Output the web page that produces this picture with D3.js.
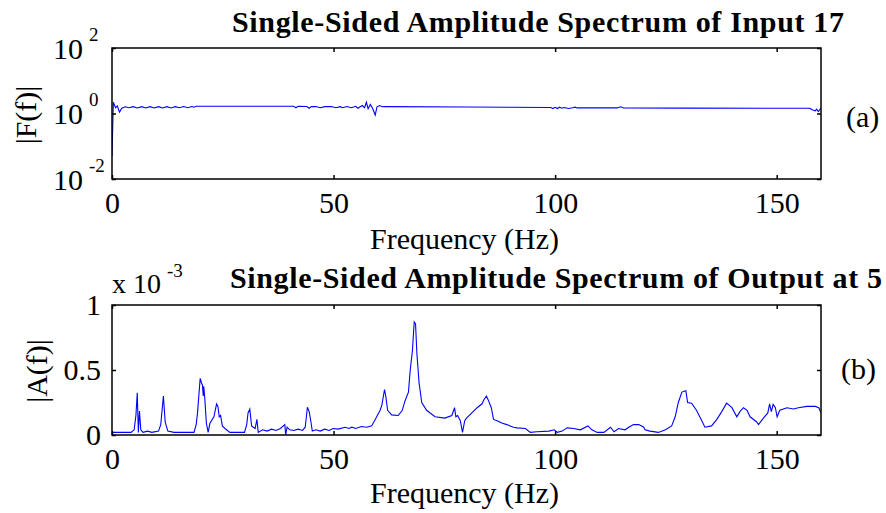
<!DOCTYPE html>
<html><head><meta charset="utf-8">
<script src="https://cdn.jsdelivr.net/npm/d3@7"></script>
<style>
html,body{margin:0;padding:0;background:#fff;}
svg{display:block;}
text{font-family:"Liberation Serif","Times New Roman",serif;fill:#000;}
</style></head>
<body>
<svg id="c" width="886" height="513"></svg>
<script>
// ---- data ----
const xTicks = [0, 50, 100, 150];
const topYTicks = [0.01, 1, 100];
const topYExp = ["-2", "0", "2"];
const botYTicks = [0, 0.5, 1];
const botYLabels = ["0", "0.5", "1"];
const titleTop = "Single-Sided Amplitude Spectrum of Input 17";
const titleBot = "Single-Sided Amplitude Spectrum of Output at 5";

const inFreq = [0,0.3,0.8,1.2,1.7,2.2,3,3.8,4.8,5.7,6.7,7.6,8.6,9.5,10.5,11.4,12.4,13.3,14.3,15.2,16.2,17.1,18,18.5,19,30,41,41.5,42,44,44.5,45,46,47,48,49.5,50.5,51.5,52,53,54,55,55.5,56,56.5,57,57.4,57.8,58.3,58.8,59.4,59.8,60.4,61,61.6,80,99,99.5,100,100.5,101,101.5,102,103,104,104.5,105,114,114.8,115.4,130,157.5,158,158.7,159,159.4,160];
const inAmp  = [0.05,2.2,1.5,1.7,1.1,1.45,1.6,1.5,1.62,1.48,1.62,1.48,1.62,1.48,1.62,1.48,1.62,1.48,1.62,1.5,1.63,1.5,1.64,1.55,1.66,1.66,1.66,1.5,1.66,1.64,1.45,1.62,1.64,1.5,1.62,1.64,1.5,1.62,1.5,1.64,1.5,1.66,1.45,1.6,1.75,1.5,2.2,1.4,1.9,1.45,0.9,1.6,1.75,1.6,1.62,1.58,1.52,1.42,1.55,1.42,1.56,1.45,1.52,1.42,1.5,1.56,1.48,1.48,1.6,1.47,1.46,1.45,1.3,1.2,1.35,1.15,1.45];

const outFreq = [0,4.3,5.0,5.4,5.7,5.95,6.2,6.5,7,8,9,10.5,11.0,11.6,12.0,12.6,14,18.5,19.0,19.3,19.9,20.2,20.4,20.6,20.7,20.9,21.3,21.7,22.1,23.0,23.6,23.9,24.2,24.5,24.9,25.5,26.6,29.9,30.4,30.7,31.1,31.5,32.3,32.7,33.0,34,35,36,37,38,39.0,39.2,39.5,40.1,41,42,43,43.6,44.1,44.5,44.9,45.2,46,47,48,49,49.9,51,52.6,53.5,54.1,55,56.3,57.5,58.6,59.4,60.5,60.9,61.5,61.8,62.2,63.1,64.6,65.5,66.1,66.9,67.3,67.8,68.2,68.5,68.8,69.3,69.9,71.0,72.9,75.1,76.7,77.3,77.6,78.0,78.6,79.1,79.6,80.0,82.4,83.5,83.9,84.5,84.9,85.6,86.1,86.9,88.1,89.1,90.6,91.4,93.3,94.4,95.9,98.6,99.8,100.5,101.6,102.7,104.2,105.7,107.4,108.3,109.5,111.0,112.5,113.3,114.3,115.8,116.6,117.7,118.9,120.0,120.3,121.4,123.3,124.9,126.3,127.1,127.8,128.6,129.5,129.9,130.8,131.9,133.1,133.8,135.3,136.5,137.6,138.7,139.9,141.0,141.7,142.5,143.3,144.0,145.5,145.9,147.0,148.0,148.4,148.8,149.2,149.7,150.1,150.7,152.3,153.8,154.9,156.8,158.7,159.5,160];
const outAmp  = [0.02,0.02,0.04,0.15,0.325,0.02,0.185,0.04,0.02,0.03,0.02,0.03,0.08,0.30,0.10,0.03,0.02,0.02,0.08,0.17,0.436,0.40,0.385,0.30,0.375,0.30,0.09,0.02,0.09,0.14,0.24,0.22,0.14,0.15,0.07,0.05,0.02,0.02,0.08,0.17,0.20,0.07,0.05,0.12,0.02,0.04,0.03,0.045,0.035,0.05,0.08,0.0,0.06,0.04,0.035,0.045,0.035,0.06,0.213,0.18,0.10,0.03,0.04,0.03,0.045,0.035,0.05,0.045,0.06,0.05,0.06,0.05,0.065,0.06,0.07,0.12,0.19,0.23,0.35,0.295,0.19,0.155,0.15,0.19,0.26,0.33,0.50,0.65,0.87,0.855,0.63,0.40,0.25,0.19,0.14,0.13,0.15,0.21,0.14,0.15,0.11,0.02,0.11,0.13,0.21,0.24,0.27,0.30,0.27,0.21,0.12,0.11,0.09,0.08,0.06,0.055,0.05,0.02,0.025,0.03,0.04,0.02,0.03,0.055,0.05,0.04,0.07,0.04,0.02,0.02,0.06,0.025,0.05,0.04,0.06,0.08,0.08,0.06,0.04,0.03,0.02,0.04,0.07,0.14,0.25,0.33,0.34,0.25,0.245,0.19,0.11,0.06,0.07,0.12,0.18,0.245,0.21,0.14,0.18,0.21,0.19,0.14,0.10,0.08,0.13,0.17,0.24,0.18,0.235,0.21,0.14,0.19,0.21,0.20,0.21,0.22,0.22,0.21,0.17];

// ---- layout ----
const svg = d3.select("#c");
const L = 112, R = 821;
const top1 = 48, bot1 = 179;
const top2 = 305, bot2 = 435;
const FS = 30;

const x = d3.scaleLinear().domain([0,160]).range([L,R]);
const yTop = d3.scaleLog().domain([0.01,100]).range([bot1,top1]);
const yBot = d3.scaleLinear().domain([0,1]).range([bot2,top2]);

svg.append("defs").call(d=>{
  d.append("clipPath").attr("id","cp1").append("rect").attr("x",L).attr("y",top1).attr("width",R-L).attr("height",bot1-top1);
  d.append("clipPath").attr("id","cp2").append("rect").attr("x",L).attr("y",top2).attr("width",R-L).attr("height",bot2-top2);
});

function styleAxis(g){
  g.select(".domain").remove();
  g.selectAll(".tick line").attr("stroke","#000").attr("stroke-width",1.5);
  g.selectAll(".tick text").style("font-family",'"Liberation Serif","Times New Roman",serif').style("font-size",FS+"px").attr("fill","#000");
}

function panel(yScale, t, b, clipId, freq, amp, isLog){
  // line
  const line = d3.line().x((d,i)=>x(freq[i])).y((d,i)=>yScale(amp[i]));
  svg.append("path").datum(amp).attr("d",line).attr("fill","none")
    .attr("stroke","#0000ff").attr("stroke-width",1.1).attr("clip-path",`url(#${clipId})`);
  // axes
  svg.append("g").attr("transform",`translate(0,${b})`)
    .call(d3.axisBottom(x).tickValues(xTicks).tickSizeInner(-4).tickSizeOuter(0).tickPadding(13))
    .call(styleAxis);
  svg.append("g").attr("transform",`translate(0,${t})`)
    .call(d3.axisTop(x).tickValues(xTicks).tickSizeInner(-4).tickSizeOuter(0).tickFormat(""))
    .call(styleAxis);
  const yt = isLog ? topYTicks : botYTicks;
  const left = svg.append("g").attr("transform",`translate(${L},0)`)
    .call(d3.axisLeft(yScale).tickValues(yt).tickSizeInner(-4).tickSizeOuter(0).tickPadding(11)
      .tickFormat(isLog ? (()=>"") : ((d,i)=>botYLabels[i])))
    .call(styleAxis);
  svg.append("g").attr("transform",`translate(${R},0)`)
    .call(d3.axisRight(yScale).tickValues(yt).tickSizeInner(-4).tickSizeOuter(0).tickFormat(""))
    .call(styleAxis);
  if(isLog){
    left.selectAll(".tick").each(function(d,i){
      const g = d3.select(this);
      g.select("text").remove();
      g.append("text").attr("x",-29).attr("y",10).attr("text-anchor","end")
        .style("font-size",FS+"px").text("10");
      g.append("text").attr("x",-23).attr("y",-8).attr("text-anchor","start")
        .style("font-size","19px").text(topYExp[i]);
    });
  }
  // box
  svg.append("rect").attr("x",L).attr("y",t).attr("width",R-L).attr("height",b-t)
    .attr("fill","none").attr("stroke","#000").attr("stroke-width",1.5);
}

panel(yTop, top1, bot1, "cp1", inFreq, inAmp, true);
panel(yBot, top2, bot2, "cp2", outFreq, outAmp, false);

// titles
svg.append("text").attr("x",232).attr("y",32).attr("textLength",612).attr("lengthAdjust","spacing")
  .style("font-size","30px").style("font-weight","bold").text(titleTop);
svg.append("text").attr("x",230).attr("y",288).attr("textLength",652).attr("lengthAdjust","spacing")
  .style("font-size","30px").style("font-weight","bold").text(titleBot);

// x labels
svg.append("text").attr("x",(L+R)/2-2).attr("y",249).attr("text-anchor","middle").style("font-size",FS+"px").text("Frequency (Hz)");
svg.append("text").attr("x",(L+R)/2-2).attr("y",503).attr("text-anchor","middle").style("font-size",FS+"px").text("Frequency (Hz)");

// y labels
svg.append("text").attr("transform","translate(36,115) rotate(-90)").attr("text-anchor","middle").style("font-size",FS+"px").text("|F(f)|");
svg.append("text").attr("transform","translate(47,371) rotate(-90)").attr("text-anchor","middle").style("font-size",FS+"px").text("|A(f)|");

// exponent multiplier
svg.append("text").attr("x",112).attr("y",293).style("font-size","28px").text("x 10");
svg.append("text").attr("x",167).attr("y",277).style("font-size","19px").text("-3");

// panel tags
svg.append("text").attr("x",846).attr("y",127).style("font-size",FS+"px").text("(a)");
svg.append("text").attr("x",841).attr("y",379).style("font-size",FS+"px").text("(b)");
</script>
</body></html>
